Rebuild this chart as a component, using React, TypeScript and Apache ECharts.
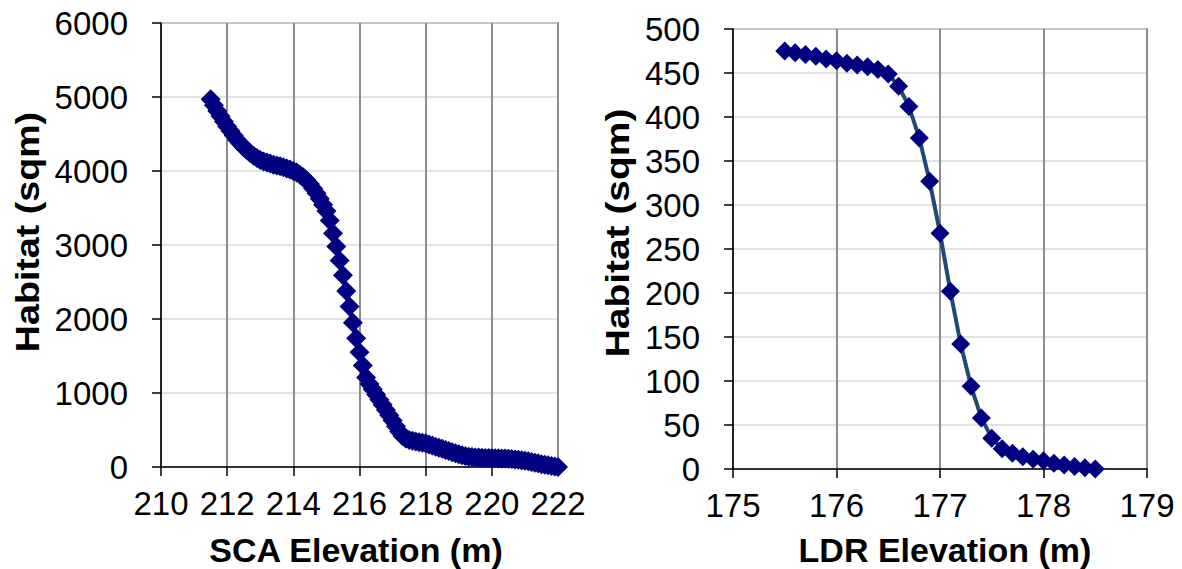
import React, { useEffect, useRef } from "react";
import * as echarts from "echarts";

// SCA chart data (elevation in m, habitat in sqm)
const scaElevation = [
  211.5, 211.6, 211.7, 211.8, 211.9, 212.0, 212.1, 212.2, 212.3, 212.4,
  212.5, 212.6, 212.7, 212.8, 212.9, 213.0, 213.1, 213.2, 213.3, 213.4,
  213.5, 213.6, 213.7, 213.8, 213.9, 214.0, 214.1, 214.2, 214.3, 214.4,
  214.5, 214.6, 214.7, 214.8, 214.9, 215.0, 215.1, 215.2, 215.3, 215.4,
  215.5, 215.6, 215.7, 215.8, 215.9, 216.0, 216.1, 216.2, 216.3, 216.4,
  216.5, 216.6, 216.7, 216.8, 216.9, 217.0, 217.1, 217.2, 217.3, 217.4,
  217.5, 217.6, 217.7, 217.8, 217.9, 218.0, 218.1, 218.2, 218.3, 218.4,
  218.5, 218.6, 218.7, 218.8, 218.9, 219.0, 219.1, 219.2, 219.3, 219.4,
  219.5, 219.6, 219.7, 219.8, 219.9, 220.0, 220.1, 220.2, 220.3, 220.4,
  220.5, 220.6, 220.7, 220.8, 220.9, 221.0, 221.1, 221.2, 221.3, 221.4,
  221.5, 221.6, 221.7, 221.8, 221.9, 222.0,
];
const scaHabitat = [
  4970, 4890, 4810, 4740, 4670, 4600, 4540, 4480, 4420, 4370,
  4320, 4280, 4240, 4205, 4175, 4150, 4130, 4115, 4100, 4085,
  4075, 4065, 4050, 4035, 4020, 4000, 3980, 3950, 3915, 3875,
  3825, 3765, 3700, 3625, 3545, 3460, 3330, 3160, 2980, 2790,
  2590, 2380, 2170, 1950, 1740, 1550, 1370, 1210, 1120, 1050,
  980, 910, 840, 770, 700, 630, 550, 480, 420, 385,
  365, 355, 345, 335, 328, 320, 305, 290, 275, 260,
  245, 230, 215, 200, 185, 172, 160, 150, 140, 135,
  130, 127, 124, 122, 121, 120, 119, 118, 116, 114,
  111, 107, 103, 98, 92, 85, 77, 68, 59, 49,
  38, 30, 22, 14, 7, 0,
];

// LDR chart data
const ldrElevation = [
  175.5, 175.6, 175.7, 175.8, 175.9, 176.0, 176.1, 176.2, 176.3, 176.4,
  176.5, 176.6, 176.7, 176.8, 176.9, 177.0, 177.1, 177.2, 177.3, 177.4,
  177.5, 177.6, 177.7, 177.8, 177.9, 178.0, 178.1, 178.2, 178.3, 178.4,
  178.5,
];
const ldrHabitat = [
  475, 473, 471, 469, 466, 464, 461, 459, 457, 454,
  449, 435, 412, 376, 327, 268, 202, 142, 94, 58,
  35, 23, 18, 14, 11, 9.5, 6.5, 4.5, 2.7, 1.5,
  0,
];

// Axis settings
const scaXTicks = { min: 210, max: 222, interval: 2 };
const scaYTicks = { min: 0, max: 6000, interval: 1000 };
const ldrXTicks = { min: 175, max: 179, interval: 1 };
const ldrYTicks = { min: 0, max: 500, interval: 50 };

const titles = {
  scaX: "SCA Elevation (m)",
  ldrX: "LDR Elevation (m)",
  y: "Habitat (sqm)",
};

const FONT = '"Liberation Sans", Arial, Helvetica, sans-serif';

function xAxisCfg(gridIndex: number, t: { min: number; max: number; interval: number }) {
  return {
    type: "value",
    gridIndex,
    min: t.min,
    max: t.max,
    interval: t.interval,
    axisLine: { show: true, onZero: false, lineStyle: { color: "#000", width: 1.5 } },
    axisTick: { show: true, length: 9, lineStyle: { color: "#000", width: 1.5 } },
    axisLabel: { fontSize: 33, color: "#000", fontFamily: FONT, margin: 20, formatter: (v: number) => String(v) },
    splitLine: { show: true, lineStyle: { color: "#8c8c8c", width: 2 } },
  };
}

function yAxisCfg(gridIndex: number, t: { min: number; max: number; interval: number }) {
  return {
    type: "value",
    gridIndex,
    min: t.min,
    max: t.max,
    interval: t.interval,
    axisLine: { show: true, onZero: false, lineStyle: { color: "#000", width: 1.5 } },
    axisTick: { show: true, length: 9, lineStyle: { color: "#000", width: 1.5 } },
    axisLabel: { fontSize: 33, color: "#000", fontFamily: FONT, margin: 33, formatter: (v: number) => String(v) },
    splitLine: { show: true, lineStyle: { color: "#d9d9d9", width: 1.5 } },
  };
}

export default function App() {
  const ref = useRef<HTMLDivElement>(null);

  useEffect(() => {
    if (!ref.current) return;
    const chart = echarts.init(ref.current, undefined, { renderer: "svg" });
    const scaData = scaElevation.map((x, i) => [x, scaHabitat[i]]);
    const ldrData = ldrElevation.map((x, i) => [x, ldrHabitat[i]]);

    chart.setOption({
      animation: false,
      backgroundColor: "#fff",
      grid: [
        { left: 161, top: 23, width: 397, height: 444, show: true, borderColor: "#8c8c8c", borderWidth: 2, backgroundColor: "#fff" },
        { left: 733, top: 29, width: 414, height: 440, show: true, borderColor: "#8c8c8c", borderWidth: 2, backgroundColor: "#fff" },
      ],
      xAxis: [xAxisCfg(0, scaXTicks), xAxisCfg(1, ldrXTicks)],
      yAxis: [yAxisCfg(0, scaYTicks), yAxisCfg(1, ldrYTicks)],
      series: [
        {
          type: "line",
          xAxisIndex: 0,
          yAxisIndex: 0,
          data: scaData,
          symbol: "diamond",
          symbolSize: 20,
          showAllSymbol: true,
          clip: false,
          itemStyle: { color: "#000080" },
          lineStyle: { color: "#000080", width: 3 },
        },
        {
          type: "line",
          xAxisIndex: 1,
          yAxisIndex: 1,
          data: ldrData,
          symbol: "diamond",
          symbolSize: 19,
          showAllSymbol: true,
          clip: false,
          itemStyle: { color: "#000080" },
          lineStyle: { color: "#1f4a78", width: 4 },
        },
      ],
      graphic: [
        {
          type: "text",
          x: 27,
          y: 232,
          rotation: Math.PI / 2,
          scaleX: 1.14,
          style: { text: titles.y, fontSize: 33, fontWeight: "bold", fontFamily: FONT, fill: "#000", align: "center", verticalAlign: "middle", textAlign: "center", textVerticalAlign: "middle" },
        },
        {
          type: "text",
          x: 618,
          y: 233,
          rotation: Math.PI / 2,
          scaleX: 1.18,
          style: { text: titles.y, fontSize: 33, fontWeight: "bold", fontFamily: FONT, fill: "#000", align: "center", verticalAlign: "middle", textAlign: "center", textVerticalAlign: "middle" },
        },
        {
          type: "text",
          x: 356,
          y: 550,
          style: { text: titles.scaX, fontSize: 34, fontWeight: "bold", fontFamily: FONT, fill: "#000", align: "center", verticalAlign: "middle", textAlign: "center", textVerticalAlign: "middle" },
        },
        {
          type: "text",
          x: 945,
          y: 550,
          style: { text: titles.ldrX, fontSize: 34, fontWeight: "bold", fontFamily: FONT, fill: "#000", align: "center", verticalAlign: "middle", textAlign: "center", textVerticalAlign: "middle" },
        },
      ],
    });

    return () => chart.dispose();
  }, []);

  return (
    <div
      ref={ref}
      style={{ position: "absolute", left: 0, top: 0, width: 1182, height: 569 }}
    />
  );
}
